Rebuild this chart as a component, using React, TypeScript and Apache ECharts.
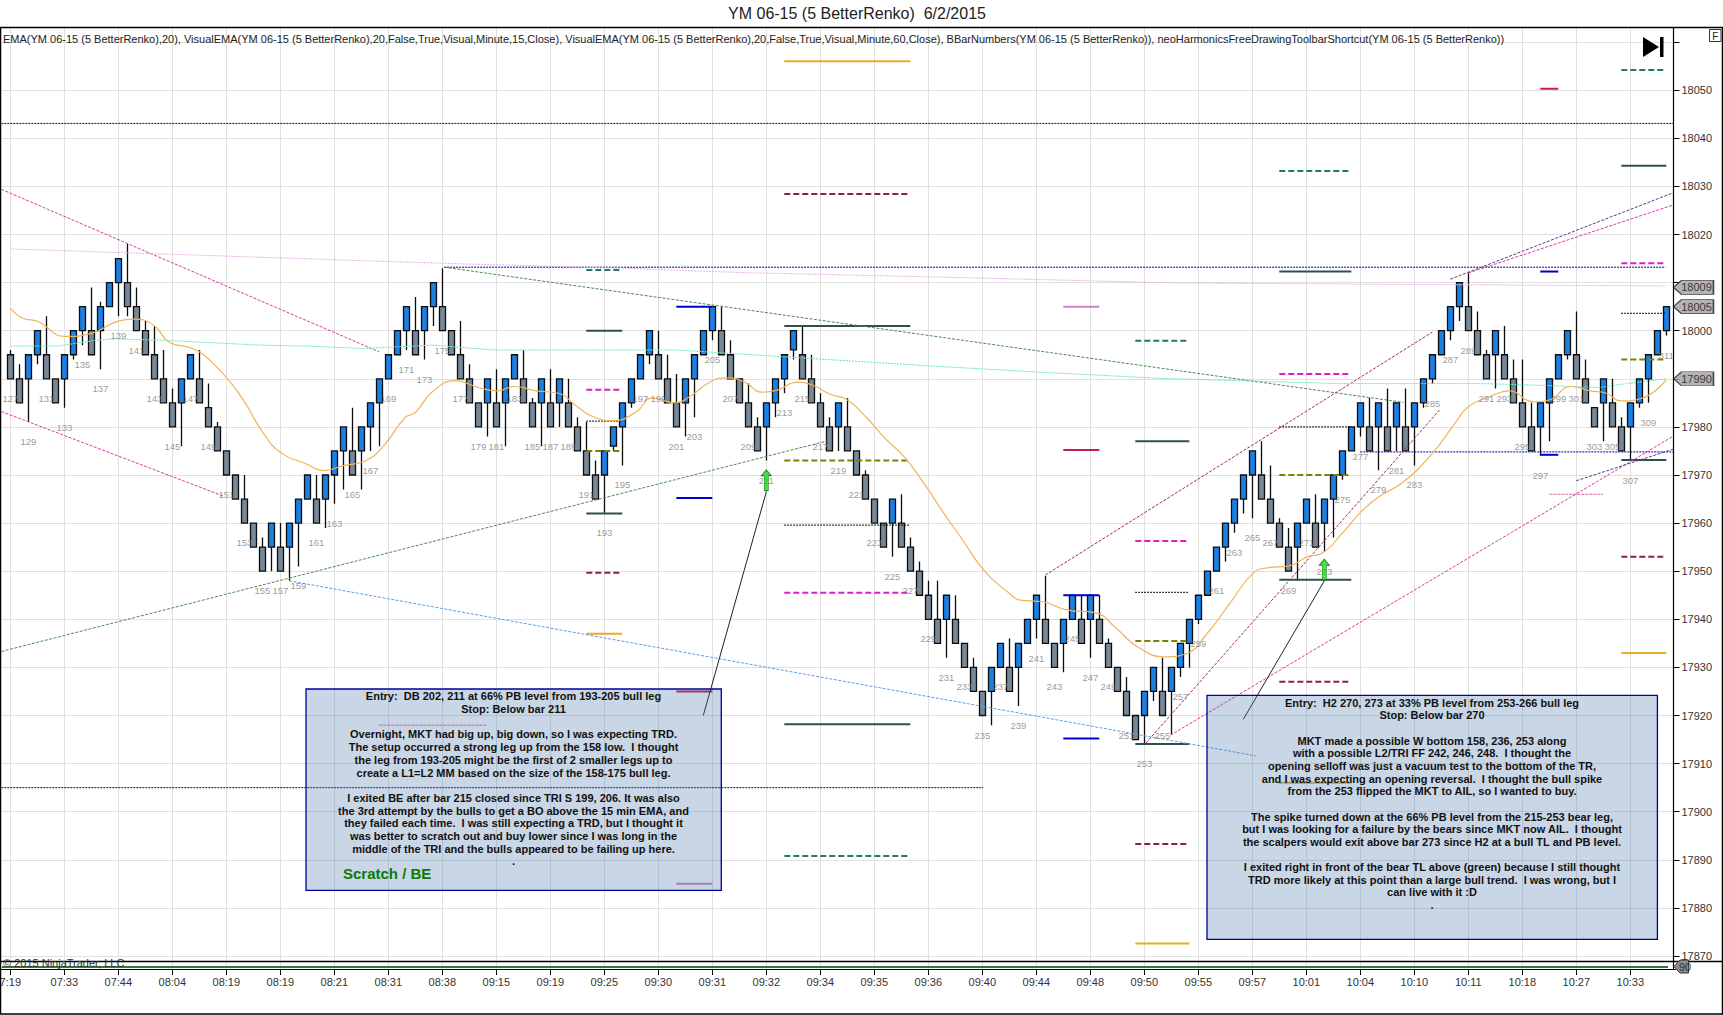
import React, { useEffect, useRef } from "react";
import * as echarts from "echarts";

const titleText = "YM 06-15 (5 BetterRenko)  6/2/2015";
const indicatorText =
  "EMA(YM 06-15 (5 BetterRenko),20), VisualEMA(YM 06-15 (5 BetterRenko),20,False,True,Visual,Minute,15,Close), VisualEMA(YM 06-15 (5 BetterRenko),20,False,True,Visual,Minute,60,Close), BBarNumbers(YM 06-15 (5 BetterRenko)), neoHarmonicsFreeDrawingToolbarShortcut(YM 06-15 (5 BetterRenko))";
const copyrightText = "© 2015 NinjaTrader, LLC";

const timeLabels = ["7:19","07:33","07:44","08:04","08:19","08:19","08:21","08:31","08:38","09:15","09:19","09:25","09:30","09:31","09:32","09:34","09:35","09:36","09:40","09:44","09:48","09:50","09:55","09:57","10:01","10:04","10:10","10:11","10:18","10:27","10:33"];
const firstBar = 127;

// open, close, low, high for bars 127..311
const candles: number[][] = [
[17995,17990,17990,17996],[17990,17985,17985,17993],[17990,17995,17981,17995],[17995,18000,17993,18000],[17995,17990,17990,18003],[17990,17985,17985,17990],[17990,17995,17984,17995],[17995,18000,17994,18000],[18000,18005,17997,18005],[18000,17995,17995,18009],
[18000,18005,17992,18006],[18005,18010,18005,18010],[18010,18015,18003,18015],[18010,18005,18003,18018],[18005,18000,18000,18009],[18000,17995,17995,18002],[17995,17990,17990,18001],[17990,17985,17985,17996],[17985,17980,17980,17988],[17985,17990,17976,17990],
[17990,17995,17990,17995],[17990,17985,17985,17996],[17984,17980,17980,17989],[17980,17975,17975,17981],[17975,17970,17970,17975],[17970,17965,17965,17970],[17965,17960,17960,17970],[17960,17955,17955,17960],[17955,17950,17950,17957],[17955,17960,17950,17960],
[17955,17950,17950,17960],[17955,17960,17948,17960],[17960,17965,17951,17965],[17965,17970,17965,17970],[17965,17960,17960,17970],[17965,17970,17959,17970],[17970,17975,17964,17975],[17975,17980,17967,17980],[17975,17970,17970,17984],[17975,17980,17967,17980],
[17980,17985,17975,17985],[17985,17990,17976,17990],[17990,17995,17990,17995],[17995,18000,17995,18000],[18000,18005,17996,18005],[18000,17995,17995,18007],[18000,18005,17994,18005],[18005,18010,18001,18010],[18005,18000,18000,18013],[18000,17995,17995,18000],
[17995,17990,17990,18002],[17990,17985,17985,17993],[17985,17980,17980,17985],[17985,17990,17978,17990],[17985,17980,17980,17992],[17985,17990,17976,17990],[17990,17995,17990,17995],[17990,17985,17985,17996],[17985,17980,17980,17986],[17985,17990,17976,17990],
[17985,17980,17980,17992],[17985,17990,17980,17990],[17985,17980,17980,17990],[17980,17975,17975,17982],[17975,17970,17970,17981],[17970,17965,17965,17973],[17970,17975,17962,17975],[17976,17980,17975,17980],[17980,17985,17972,17985],[17985,17990,17984,17990],
[17990,17995,17990,17995],[17995,18000,17993,18000],[17995,17990,17990,18000],[17990,17985,17985,17995],[17985,17980,17980,17991],[17985,17990,17978,17990],[17990,17995,17982,17995],[17995,18000,17995,18000],[18000,18005,17998,18005],[18000,17995,17995,18005],
[17995,17990,17990,17998],[17990,17985,17985,17990],[17985,17980,17980,17989],[17980,17975,17975,17982],[17980,17985,17973,17985],[17985,17990,17982,17990],[17990,17995,17987,17995],[17996,18000,17994,18000],[17995,17990,17990,18001],[17990,17985,17985,17995],
[17985,17980,17980,17987],[17980,17975,17975,17982],[17980,17985,17975,17985],[17980,17975,17975,17986],[17975,17970,17970,17975],[17970,17965,17965,17971],[17965,17960,17960,17965],[17960,17955,17955,17960],[17960,17965,17953,17965],[17960,17955,17955,17966],
[17955,17950,17950,17957],[17950,17945,17945,17952],[17945,17940,17940,17948],[17940,17935,17935,17948],[17940,17945,17932,17945],[17940,17935,17935,17945],[17935,17930,17930,17935],[17930,17925,17925,17932],[17925,17920,17920,17925],[17925,17930,17918,17930],
[17930,17935,17930,17935],[17930,17925,17925,17936],[17930,17935,17922,17935],[17935,17940,17935,17940],[17940,17945,17936,17945],[17940,17935,17935,17949],[17935,17930,17930,17935],[17935,17940,17929,17940],[17940,17945,17940,17945],[17940,17935,17935,17945],
[17940,17945,17932,17945],[17940,17935,17935,17945],[17935,17930,17930,17936],[17930,17925,17925,17930],[17925,17920,17920,17928],[17920,17915,17915,17920],[17920,17925,17914,17925],[17925,17930,17923,17930],[17925,17920,17920,17932],[17925,17930,17916,17930],
[17930,17935,17928,17935],[17935,17940,17930,17940],[17940,17945,17939,17945],[17945,17950,17945,17950],[17950,17955,17950,17955],[17955,17960,17952,17960],[17960,17965,17958,17965],[17965,17970,17962,17970],[17970,17975,17961,17975],[17970,17965,17965,17977],
[17965,17960,17960,17972],[17960,17955,17955,17961],[17955,17950,17950,17959],[17955,17960,17948,17960],[17960,17965,17960,17965],[17960,17955,17955,17966],[17960,17965,17954,17965],[17965,17970,17957,17970],[17970,17975,17969,17975],[17975,17980,17975,17980],
[17980,17985,17978,17985],[17980,17975,17975,17986],[17980,17985,17971,17985],[17980,17975,17975,17988],[17980,17985,17975,17985],[17980,17975,17975,17988],[17980,17985,17972,17985],[17985,17990,17984,17990],[17990,17995,17989,17995],[17995,18000,17995,18000],
[18000,18005,17998,18005],[18005,18010,18002,18010],[18005,18000,18000,18012],[18000,17995,17995,18004],[17995,17990,17990,17996],[17995,18000,17988,18000],[17995,17990,17990,18001],[17990,17985,17985,17994],[17985,17980,17980,17994],[17980,17975,17975,17985],
[17980,17985,17974,17985],[17985,17990,17977,17990],[17990,17995,17990,17995],[17995,18000,17994,18000],[17995,17990,17990,18004],[17990,17985,17985,17994],[17984,17980,17980,17984],[17985,17990,17977,17990],[17985,17980,17980,17990],[17980,17975,17975,17982],
[17980,17985,17973,17985],[17985,17990,17984,17990],[17990,17995,17985,17995],[17995,18000,17995,18000],[18000,18005,17999,18005],
];

// [bar, price]
const emaFast = [[127,18004.7],[128.4,18002.6],[130.1,18001.9],[133.1,17998.8],[136.1,17999.5],[139,18002],[140.7,18002.4],[142.9,18001.2],[144.6,17997.7],[146.7,17996.6],[148,17995.6],[149.7,17992.9],[151.4,17989.4],[153.1,17985],[155,17979],[157.1,17974.6],[159.9,17972.3],[161.8,17970.9],[164.1,17972],[166.3,17972.8],[168.4,17975.9],[170.9,17982],[172,17983],[173.9,17987.3],[176.5,17989.6],[179,17988.2],[181.1,17987.5],[183,17988.4],[185.4,17987.5],[187.9,17987],[190,17984.2],[191.9,17982],[194,17981.3],[196.6,17983.2],[198.3,17986],[200.9,17985],[202.5,17986.3],[204.9,17989.5],[206.6,17990.2],[208.5,17989.4],[210.6,17987.2],[212.3,17987.7],[214.4,17989.3],[216.1,17988.7],[218.1,17986.8],[220,17985.6],[222.1,17982],[224.2,17977.6],[226.3,17973.8],[228.5,17968.3],[230.6,17962.4],[232.7,17956.8],[235.3,17949.9],[238,17945.4],[239.2,17944],[241.5,17943.7],[244.5,17941.9],[247.5,17941.4],[249.9,17938.1],[252.3,17934.2],[255.3,17932.2],[257.7,17932.9],[260,17937.1],[262.5,17943.3],[265.1,17949.6],[266.7,17950.7],[269.1,17951.1],[271.1,17953],[272.7,17953.7],[275,17957.9],[277.1,17962.4],[279.1,17965.5],[281.8,17968.6],[285,17974.5],[287.5,17980.7],[289,17984.2],[291.4,17986.3],[293.6,17987.5],[296.2,17985.2],[298,17985.6],[300.4,17988.4],[302.6,17987.5],[304.2,17987.1],[306,17985.4],[308.2,17985.9],[311,17989.8]];
const emaMinute15 = [[127,17996.8],[132.2,17996.8],[136.5,17998],[138.6,17998.3],[144.2,17998],[154.7,17997],[159.9,17996.8],[166.3,17996.3],[173.9,17997],[180.7,17996],[192.5,17996],[200.9,17996],[213.6,17994.5],[228.9,17992.7],[241.2,17991.4],[254.7,17990.1],[274.7,17989],[290.6,17989],[296.2,17988.7],[303.6,17988.2],[306.6,17989],[311,17990]];
const emaMinute60 = [[127,18017],[175.2,18014],[194.8,18013],[208,18012.1],[233.6,18011],[254.7,18010],[258.3,18009.9],[310.9,18009.3]];

// [fromBar, toBar, price]
const tealLevels = [[191,195,18012.6],[213,227,17890.8],[252,258,17997.9],[268,276,18033.2],[306,311,18054.2]];
const slateLevels = [[191,195,18000],[191,195,17962],[213,227,18001],[213,227,17918.2],[252,258,17977],[252,258,17914.1],[268,276,18012.3],[268,276,17948.2],[306,311,18034.3],[306,311,17973.1]];
const magentaLevels = [[191,195,17987.7],[213,227,17945.5],[252,258,17956.3],[268,276,17991],[306,311,18014]];
const dottedLevels = [[191,195,17981.2],[213,227,17959.6],[252,258,17945.6],[268,276,17980],[306,311,18003.6]];
const oliveLevels = [[191,195,17975],[213,227,17973],[252,258,17935.5],[268,276,17970],[306,311,17994]];
const darkRedLevels = [[191,195,17949.7],[213,227,18028.4],[252,258,17893.3],[268,276,17927],[306,311,17953]];
const orangeLevels = [[191,195,17937],[213,227,18056],[252,258,17872.6],[268,276,17906],[306,311,17933]];
const blueLevels = [[201,205,18005],[201,205,17965.2],[244,248,17945],[244,248,17915.2],[297,299,18012.3],[297,299,17974.2]];
const crimsonLevels = [[201,205,17925],[244,248,17975.2],[297,299,18050.3]];
const plumLevels = [[201,205,17885],[244,248,18005]];
const pinkLevels = [[168,180,17918],[298,304,17966]];
const navyLevels = [[126,311.8,18043.1],[126,235.1,17905],[175.2,310.9,18013.2],[277,311.8,17974.8]];

// [bar1, price1, bar2, price2]
const pinkTrendLines = [[126,18029.4,168,17995.6],[126,17983.2,150.7,17965.6],[255.9,17915.9,311.8,17978.1],[289,18012,311.7,18026.1]];
const greenTrendLines = [[126,17933.3,217.8,17977.1],[175.2,18013.2,281.8,17985.1]];
const lightBlueTrendLines = [[158,17948,265.4,17911.6]];
const maroonTrendLines = [[242,17949.2,285,17999.7],[253.2,17914.3,285.8,17983.5]];
const purpleTrendLines = [[287,18010.7,311.8,18028.7],[301,17968.8,311.8,17975.4]];
const noteLeaders = [[211,17966.5,204,17920],[273,17948,264,17919.2]];

const entryArrows = [[211,17968.9],[273,17950.3]];
const priceMarkers = [18009,18005,17990];
const hiddenAxisLabels = [18060,18010,17990];

const noteLeft = [
  "Entry:  DB 202, 211 at 66% PB level from 193-205 bull leg",
  "Stop: Below bar 211",
  "",
  "Overnight, MKT had big up, big down, so I was expecting TRD.",
  "The setup occurred a strong leg up from the 158 low.  I thought",
  "the leg from 193-205 might be the first of 2 smaller legs up to",
  "create a L1=L2 MM based on the size of the 158-175 bull leg.",
  "",
  "I exited BE after bar 215 closed since TRI S 199, 206. It was also",
  "the 3rd attempt by the bulls to get a BO above the 15 min EMA, and",
  "they failed each time.  I was still expecting a TRD, but I thought it",
  "was better to scratch out and buy lower since I was long in the",
  "middle of the TRI and the bulls appeared to be failing up here.",
  ".",
];
const noteRight = [
  "Entry:  H2 270, 273 at 33% PB level from 253-266 bull leg",
  "Stop: Below bar 270",
  "",
  "MKT made a possible W bottom 158, 236, 253 along",
  "with a possible L2/TRI FF 242, 246, 248.  I thought the",
  "opening selloff was just a vacuum test to the bottom of the TR,",
  "and I was expecting an opening reversal.  I thought the bull spike",
  "from the 253 flipped the MKT to AIL, so I wanted to buy.",
  "",
  "The spike turned down at the 66% PB level from the 215-253 bear leg,",
  "but I was looking for a failure by the bears since MKT now AIL.  I thought",
  "the scalpers would exit above bar 273 since H2 at a bull TL and PB level.",
  "",
  "I exited right in front of the bear TL above (green) because I still thought",
  "TRD more likely at this point than a large bull trend.  I was wrong, but I",
  "can live with it :D",
  ".",
];

const FONT = '"Liberation Sans", Arial, sans-serif';

function levelSeries(levels: number[][], color: string, width: number, type: any, z = 4) {
  return levels.map((l) => ({
    type: "line", xAxisIndex: 1, yAxisIndex: 0, silent: true, showSymbol: false, z, clip: false,
    data: [[l[0], l[2]], [l[1], l[2]]],
    lineStyle: { color, width, type },
  }));
}
function slopeSeries(lines: number[][], color: string, width: number, type: any) {
  return lines.map((l) => ({
    type: "line", xAxisIndex: 1, yAxisIndex: 0, silent: true, showSymbol: false, z: 5,
    data: [[l[0], l[1]], [l[2], l[3]]],
    lineStyle: { color, width, type },
  }));
}
function emaSeries(points: number[][], color: string, width: number, type: any, smooth: boolean) {
  return {
    type: "line", xAxisIndex: 1, yAxisIndex: 0, silent: true, showSymbol: false, z: 6, smooth,
    data: points, lineStyle: { color, width, type },
  };
}

export default function App() {
  const ref = useRef<HTMLDivElement>(null);
  useEffect(() => {
    const chart = echarts.init(ref.current!, undefined, { renderer: "svg" });
    const bars: number[] = [];
    for (let b = firstBar - 1; b <= firstBar + candles.length; b++) bars.push(b);
    const categories = bars.map((b) => {
      const k = (b - firstBar) / 6;
      return Number.isInteger(k) && timeLabels[k] ? timeLabels[k] : "";
    });
    const sixth = (i: number) => (i - 1) % 6 === 0 && i >= 1 && i <= 181;
    const candleData = bars.map((b) => candles[b - firstBar] || ["-", "-", "-", "-"]);
    const barNumbers = candles
      .map((c, i) => [firstBar + i, c[2]])
      .filter((d) => d[0] % 2 === 1);

    const option: any = {
      animation: false,
      backgroundColor: "#fff",
      textStyle: { fontFamily: FONT },
      grid: [
        { left: 1.3, top: 28, width: 1674, height: 941, outerBoundsMode: "none" },
        { left: 1.3, top: 42.1, width: 1674, height: 913.9, outerBoundsMode: "none" },
      ],
      xAxis: [
        {
          gridIndex: 0, type: "category", data: categories, boundaryGap: false,
          axisLine: { lineStyle: { color: "#000", width: 1.2 } },
          axisTick: { interval: sixth, length: 6, lineStyle: { color: "#000" } },
          axisLabel: { interval: sixth, color: "#333", fontSize: 11, fontFamily: FONT, margin: 7, hideOverlap: false },
          splitLine: { show: true, interval: sixth, lineStyle: { color: "#e0e0e0", width: 1 } },
        },
        { gridIndex: 0, type: "value", min: 126, max: 312, show: false },
        { gridIndex: 1, type: "value", min: 126, max: 312, show: false },
      ],
      yAxis: [
        {
          gridIndex: 0, type: "value", min: 17867.3, max: 18062.93, position: "right", offset: -1.8,
          axisLine: { show: true, lineStyle: { color: "#000", width: 1.2 } },
          axisTick: { show: false }, axisLabel: { show: false }, splitLine: { show: false },
        },
        {
          gridIndex: 1, type: "value", min: 17870, max: 18060, interval: 10, position: "right", offset: -1.8,
          axisLine: { show: false },
          axisTick: { show: true, length: 6, lineStyle: { color: "#000" } },
          axisLabel: {
            color: "#333", fontSize: 11, fontFamily: FONT, margin: 8,
            formatter: (v: number) => (hiddenAxisLabels.includes(v) ? "" : String(v)),
          },
          splitLine: { show: true, lineStyle: { color: "#e0e0e0", width: 1 } },
        },
      ],
      series: [
        {
          type: "line", xAxisIndex: 2, yAxisIndex: 1, data: [], silent: true,
        },
        {
          type: "candlestick", xAxisIndex: 0, yAxisIndex: 0, silent: true, z: 3, barWidth: 7,
          data: candleData,
          itemStyle: {
            color: "#1c7fe3", color0: "#778899",
            borderColor: "#0c0c0c", borderColor0: "#0c0c0c", borderWidth: 1.3,
          },
        },
        emaSeries(emaMinute60, "#e6b4e6", 1, [2, 1], false),
        emaSeries(emaMinute15, "#66e8bc", 1, [2, 1], false),
        emaSeries(emaFast, "#f0b458", 1.2, "solid", true),
        ...levelSeries(tealLevels, "#1f7a6e", 2, [6, 3]),
        ...levelSeries(slateLevels, "#2f4f4f", 2, "solid"),
        ...levelSeries(magentaLevels, "#e01cc8", 2, [6, 3]),
        ...levelSeries(dottedLevels, "#000", 1.3, [1.5, 1.5]),
        ...levelSeries(oliveLevels, "#808000", 2, [6, 3]),
        ...levelSeries(darkRedLevels, "#8b2040", 2, [6, 3]),
        ...levelSeries(orangeLevels, "#eba928", 2, "solid"),
        ...levelSeries(blueLevels, "#0000cd", 2, "solid"),
        ...levelSeries(crimsonLevels, "#c41e46", 2, "solid"),
        ...levelSeries(plumLevels, "#cc80cc", 2, "solid"),
        ...levelSeries(pinkLevels, "#e060a8", 1, [3, 1]),
        ...levelSeries(navyLevels, "#0000a0", 1, [2, 1]),
        ...slopeSeries(pinkTrendLines, "#e0389c", 1, [3, 1.5]),
        ...slopeSeries(greenTrendLines, "#4f8a4f", 1, [3, 1.5]),
        ...slopeSeries(lightBlueTrendLines, "#5c9ee6", 1, [3, 1.5]),
        ...slopeSeries(maroonTrendLines, "#a03050", 1, [3, 1.5]),
        ...slopeSeries(purpleTrendLines, "#5a3a8c", 1, [3, 1.5]),
        ...slopeSeries(noteLeaders, "#222", 1, "solid"),
        {
          type: "scatter", xAxisIndex: 1, yAxisIndex: 0, silent: true, z: 8, clip: false,
          symbolSize: 1, itemStyle: { color: "rgba(0,0,0,0)" },
          data: barNumbers,
          label: {
            show: true, position: "inside", offset: [0, 19.5], color: "#808080", fontSize: 9.5, fontFamily: FONT,
            formatter: (p: any) => String(p.value[0]),
          },
        },
        {
          type: "scatter", xAxisIndex: 1, yAxisIndex: 0, silent: true, z: 9, clip: false,
          symbol: "path://M5 0 L10 6 L7 6 L7 21 L3 21 L3 6 L0 6 Z", symbolSize: [10, 21],
          data: entryArrows,
          itemStyle: { color: "#12e012", borderColor: "#0a5a0a", borderWidth: 0.8 },
        },
        {
          type: "scatter", xAxisIndex: 1, yAxisIndex: 0, silent: true, z: 9, clip: false,
          symbol: "path://M0 7 L8 0 L40 0 L40 14 L8 14 Z", symbolSize: [40, 14],
          data: priceMarkers.map((p) => [314.02, p]),
          itemStyle: { color: "#a0a0a0", borderColor: "#222", borderWidth: 1 },
          label: {
            show: true, position: "inside", offset: [3, 0], color: "#111", fontSize: 11, fontFamily: FONT,
            formatter: (p: any) => String(p.value[1]),
          },
        },
      ],
      graphic: [
        { type: "rect", silent: true, z: 1, shape: { x: 0.5, y: 27.5, width: 1722, height: 986.5 }, style: { fill: "none", stroke: "#000", lineWidth: 1.5 } },
        { type: "line", silent: true, z: 60, shape: { x1: 0, y1: 961.5, x2: 1723, y2: 961.5 }, style: { stroke: "#000", lineWidth: 1.3 } },
        { type: "line", silent: true, z: 60, shape: { x1: 2, y1: 967, x2: 1668, y2: 967 }, style: { stroke: "#2c7d2c", lineWidth: 1.8 } },
        { type: "text", silent: true, z: 60, style: { text: titleText, x: 857, y: 13, fill: "#222", font: `16px ${FONT}`, textAlign: "center", textVerticalAlign: "middle" } },
        { type: "text", silent: true, z: 60, style: { text: indicatorText, x: 3, y: 39, fill: "#222", font: `11px ${FONT}`, textAlign: "left", textVerticalAlign: "middle" } },
        { type: "text", silent: true, z: 60, style: { text: copyrightText, x: 3, y: 963, fill: "#333", font: `11px ${FONT}`, textAlign: "left", textVerticalAlign: "middle" } },
        { type: "rect", silent: true, z: 50, shape: { x: 306, y: 689, width: 415.3, height: 201.3 }, style: { fill: "rgba(70,115,170,0.29)", stroke: "#0000a0", lineWidth: 1.3 } },
        { type: "text", silent: true, z: 55, style: { text: noteLeft.join("\n"), x: 513.5, y: 690, fill: "#111", font: `bold 11px ${FONT}`, lineHeight: 12.7, textAlign: "center", textVerticalAlign: "top" } },
        { type: "text", silent: true, z: 55, style: { text: "Scratch / BE", x: 343, y: 873, fill: "#0a7a0a", font: `bold 15px ${FONT}`, textAlign: "left", textVerticalAlign: "middle" } },
        { type: "rect", silent: true, z: 50, shape: { x: 1207, y: 695.3, width: 450.4, height: 244 }, style: { fill: "rgba(70,115,170,0.29)", stroke: "#0000a0", lineWidth: 1.3 } },
        { type: "text", silent: true, z: 55, style: { text: noteRight.join("\n"), x: 1432, y: 696.4, fill: "#111", font: `bold 11px ${FONT}`, lineHeight: 12.65, textAlign: "center", textVerticalAlign: "top" } },
        { type: "polygon", silent: true, z: 60, shape: { points: [[1643, 37], [1659, 47], [1643, 57]] }, style: { fill: "#000" } },
        { type: "rect", silent: true, z: 60, shape: { x: 1660, y: 37, width: 3.5, height: 20 }, style: { fill: "#000" } },
        { type: "rect", silent: true, z: 60, shape: { x: 1709.5, y: 29.5, width: 11.5, height: 12 }, style: { fill: "#fff", stroke: "#333", lineWidth: 1 } },
        { type: "text", silent: true, z: 61, style: { text: "F", x: 1715.3, y: 36, fill: "#222", font: `10px ${FONT}`, textAlign: "center", textVerticalAlign: "middle" } },
        { type: "polygon", silent: true, z: 60, shape: { points: [[1674, 966.5], [1680, 960], [1688.5, 960], [1688.5, 973], [1680, 973]] }, style: { fill: "#8c8c8c", stroke: "#333", lineWidth: 1 } },
        { type: "text", silent: true, z: 61, style: { text: "90", x: 1685, y: 967, fill: "#333", font: `11px ${FONT}`, textAlign: "center", textVerticalAlign: "middle" } },
      ],
    };
    chart.setOption(option);
    return () => chart.dispose();
  }, []);
  return <div ref={ref} style={{ position: "fixed", left: 0, top: 0, width: 1723, height: 1015 }} />;
}
